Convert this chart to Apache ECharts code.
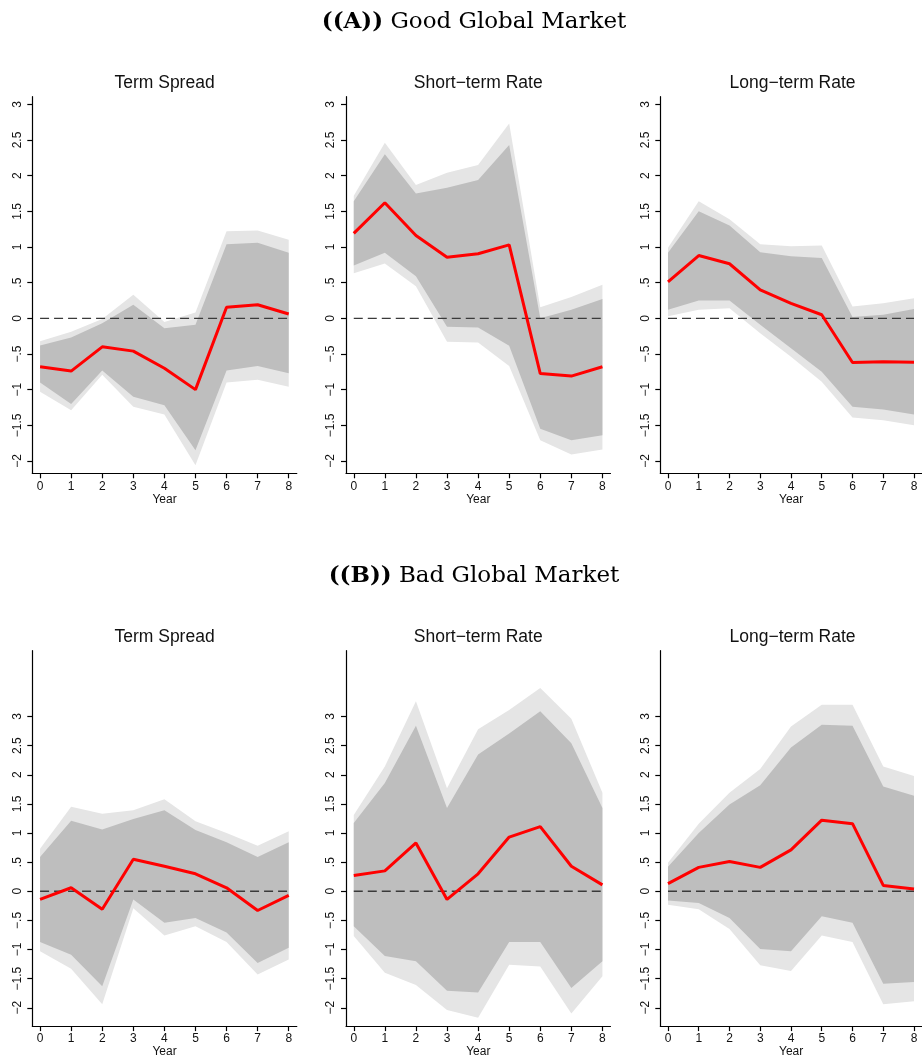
<!DOCTYPE html>
<html><head><meta charset="utf-8">
<script src="https://cdn.jsdelivr.net/npm/echarts@6/dist/echarts.min.js"></script>
<style>html,body{margin:0;padding:0;background:#fff}#c{width:922px;height:1059px}</style>
</head><body><div id="c"></div><script>
// ---------- data ----------
const years = [0, 1, 2, 3, 4, 5, 6, 7, 8];
const yTicks = [-2, -1.5, -1, -0.5, 0, 0.5, 1, 1.5, 2, 2.5, 3];
const yTickLabels = ['\u22122', '\u22121.5', '\u22121', '\u2212.5', '0', '.5', '1', '1.5', '2', '2.5', '3'];
const panelTitles = ['Term Spread', 'Short\u2212term Rate', 'Long\u2212term Rate'];
const sectionTitles = ['((A))', '((B))'];
const sectionNames = ['Good Global Market', 'Bad Global Market'];
const xAxisName = 'Year';

// (A) Good global market
const goodSpreadIRF  = [-0.68, -0.74, -0.40, -0.46, -0.70, -1.00, 0.155, 0.19, 0.06];
const goodSpreadHi90 = [-0.38, -0.27, -0.07, 0.19, -0.14, -0.09, 1.04, 1.06, 0.92];
const goodSpreadLo90 = [-0.90, -1.20, -0.73, -1.10, -1.22, -1.85, -0.73, -0.67, -0.77];
const goodSpreadHi95 = [-0.32, -0.19, -0.01, 0.33, -0.05, 0.08, 1.22, 1.23, 1.10];
const goodSpreadLo95 = [-1.03, -1.29, -0.79, -1.24, -1.35, -2.06, -0.90, -0.86, -0.96];

const goodShortIRF  = [1.19, 1.62, 1.16, 0.855, 0.905, 1.03, -0.775, -0.81, -0.68];
const goodShortHi90 = [1.64, 2.30, 1.75, 1.83, 1.94, 2.43, 0.00, 0.12, 0.27];
const goodShortLo90 = [0.74, 0.92, 0.59, -0.12, -0.13, -0.385, -1.55, -1.71, -1.64];
const goodShortHi95 = [1.72, 2.46, 1.87, 2.04, 2.15, 2.73, 0.155, 0.30, 0.47];
const goodShortLo95 = [0.63, 0.77, 0.45, -0.33, -0.34, -0.67, -1.71, -1.91, -1.84];

const goodLongIRF  = [0.51, 0.88, 0.765, 0.40, 0.21, 0.05, -0.62, -0.61, -0.615];
const goodLongHi90 = [0.92, 1.50, 1.30, 0.925, 0.87, 0.845, 0.02, 0.05, 0.13];
const goodLongLo90 = [0.12, 0.25, 0.25, -0.09, -0.42, -0.75, -1.24, -1.28, -1.35];
const goodLongHi95 = [0.99, 1.64, 1.39, 1.04, 1.01, 1.02, 0.165, 0.21, 0.28];
const goodLongLo95 = [0.03, 0.12, 0.14, -0.21, -0.54, -0.89, -1.39, -1.43, -1.50];

// (B) Bad global market
const badSpreadIRF  = [-0.14, 0.06, -0.31, 0.55, 0.43, 0.30, 0.06, -0.33, -0.07];
const badSpreadHi90 = [0.59, 1.21, 1.06, 1.24, 1.39, 1.05, 0.84, 0.59, 0.84];
const badSpreadLo90 = [-0.87, -1.09, -1.63, -0.14, -0.54, -0.46, -0.71, -1.23, -0.97];
const badSpreadHi95 = [0.73, 1.45, 1.33, 1.39, 1.58, 1.20, 1.00, 0.78, 1.03];
const badSpreadLo95 = [-1.03, -1.33, -1.94, -0.29, -0.76, -0.60, -0.87, -1.43, -1.17];

const badShortIRF  = [0.27, 0.35, 0.83, -0.14, 0.30, 0.93, 1.11, 0.43, 0.11];
const badShortHi90 = [1.17, 1.86, 2.84, 1.43, 2.35, 2.71, 3.09, 2.54, 1.43];
const badShortLo90 = [-0.60, -1.11, -1.20, -1.71, -1.74, -0.87, -0.87, -1.66, -1.20];
const badShortHi95 = [1.31, 2.14, 3.26, 1.77, 2.78, 3.11, 3.49, 2.96, 1.69];
const badShortLo95 = [-0.77, -1.40, -1.61, -2.04, -2.17, -1.26, -1.29, -2.10, -1.46];

const badLongIRF  = [0.13, 0.41, 0.51, 0.41, 0.71, 1.22, 1.16, 0.10, 0.04];
const badLongHi90 = [0.42, 1.00, 1.49, 1.82, 2.47, 2.86, 2.84, 1.80, 1.64];
const badLongLo90 = [-0.16, -0.20, -0.46, -0.99, -1.03, -0.43, -0.54, -1.59, -1.56];
const badLongHi95 = [0.49, 1.16, 1.69, 2.10, 2.83, 3.20, 3.20, 2.14, 1.98];
const badLongLo95 = [-0.23, -0.31, -0.65, -1.27, -1.37, -0.76, -0.87, -1.94, -1.89];

// ---------- layout ----------
const panels = [
  {row: 0, col: 0, irf: goodSpreadIRF, hi90: goodSpreadHi90, lo90: goodSpreadLo90, hi95: goodSpreadHi95, lo95: goodSpreadLo95},
  {row: 0, col: 1, irf: goodShortIRF,  hi90: goodShortHi90,  lo90: goodShortLo90,  hi95: goodShortHi95,  lo95: goodShortLo95},
  {row: 0, col: 2, irf: goodLongIRF,   hi90: goodLongHi90,   lo90: goodLongLo90,   hi95: goodLongHi95,   lo95: goodLongLo95},
  {row: 1, col: 0, irf: badSpreadIRF,  hi90: badSpreadHi90,  lo90: badSpreadLo90,  hi95: badSpreadHi95,  lo95: badSpreadLo95},
  {row: 1, col: 1, irf: badShortIRF,   hi90: badShortHi90,   lo90: badShortLo90,   hi95: badShortHi95,   lo95: badShortLo95},
  {row: 1, col: 2, irf: badLongIRF,    hi90: badLongHi90,    lo90: badLongLo90,    hi95: badLongHi95,    lo95: badLongLo95}
];
const gridLefts = [32.3, 346, 660.3];
const gridWidth = 264.5;
const rowTops = [96.7, 650.7];
const gridHeight = 376.6;
const rowYRange = [[-2.173, 3.107], [-2.315, 4.13]];
const xRange = [-0.25, 8.26];
const rowTitleY = [74.5, 628];
const sectionTop = [11, 564.5];

const SANS = '"Liberation Sans", Arial, Helvetica, sans-serif';
const SERIF = '"DejaVu Serif", "Liberation Serif", serif';
const LIGHT = '#e5e5e5', DARK = '#bebebe';

function band(idx, lo, hi, color) {
  return {
    type: 'custom', xAxisIndex: idx, yAxisIndex: idx, silent: true, animation: false,
    data: years.map((x, i) => [x, lo[i], hi[i]]),
    encode: {x: 0, y: [1, 2]},
    renderItem: function (params, api) {
      if (params.dataIndex !== 0) return null;
      const pts = [];
      for (let i = 0; i < years.length; i++) pts.push(api.coord([years[i], hi[i]]));
      for (let i = years.length - 1; i >= 0; i--) pts.push(api.coord([years[i], lo[i]]));
      return {type: 'polygon', shape: {points: pts}, style: {fill: color, stroke: null}};
    }
  };
}

const grids = [], xAxes = [], yAxes = [], series = [], titles = [];
panels.forEach((p, idx) => {
  grids.push({left: gridLefts[p.col], top: rowTops[p.row], width: gridWidth, height: gridHeight, containLabel: false});
  xAxes.push({
    gridIndex: idx, type: 'value', min: xRange[0], max: xRange[1],
    axisLine: {show: true, onZero: false, lineStyle: {color: '#000', width: 1.2}},
    axisTick: {show: true, length: 5, customValues: years, lineStyle: {color: '#000', width: 1.2}},
    axisLabel: {show: true, customValues: years, margin: 7, fontSize: 12, color: '#111', fontFamily: SANS},
    splitLine: {show: false},
    name: xAxisName, nameLocation: 'middle', nameGap: 19,
    nameTextStyle: {fontSize: 12, color: '#111', fontFamily: SANS}
  });
  yAxes.push({
    gridIndex: idx, type: 'value', min: rowYRange[p.row][0], max: rowYRange[p.row][1],
    axisLine: {show: true, onZero: false, lineStyle: {color: '#000', width: 1.2}},
    axisTick: {show: true, length: 5, customValues: yTicks, lineStyle: {color: '#000', width: 1.2}},
    axisLabel: {show: true, customValues: yTicks, rotate: 90, margin: 9, fontSize: 12, color: '#111', fontFamily: SANS,
      formatter: v => { const k = yTicks.findIndex(t => Math.abs(t - v) < 1e-9); return k >= 0 ? yTickLabels[k] : ''; }},
    splitLine: {show: false}
  });
  series.push(band(idx, p.lo95, p.hi95, LIGHT));
  series.push(band(idx, p.lo90, p.hi90, DARK));
  series.push({
    type: 'line', xAxisIndex: idx, yAxisIndex: idx, silent: true, animation: false, symbol: 'none',
    data: [[years[0], 0], [years[years.length - 1], 0]],
    lineStyle: {color: '#3a3a3a', width: 1.3, type: [9, 5]}, z: 3
  });
  series.push({
    type: 'line', xAxisIndex: idx, yAxisIndex: idx, silent: true, animation: false, symbol: 'none',
    data: years.map((x, i) => [x, p.irf[i]]),
    lineStyle: {color: '#ff0000', width: 3}, z: 4
  });
  titles.push({
    text: panelTitles[p.col], left: gridLefts[p.col] + gridWidth / 2, top: rowTitleY[p.row], textAlign: 'center', padding: 0,
    textStyle: {fontFamily: SANS, fontSize: 17.5, fontWeight: 'normal', color: '#111'}
  });
});
sectionTitles.forEach((s, r) => {
  titles.push({
    text: '{b|' + s + '} ' + sectionNames[r], left: 474, top: sectionTop[r], textAlign: 'center', padding: 0,
    textStyle: {fontFamily: SERIF, fontSize: 23, fontWeight: 'normal', color: '#000',
      rich: {b: {fontFamily: SERIF, fontSize: 23, fontWeight: 'bold', color: '#000'}}}
  });
});

const chart = echarts.init(document.getElementById('c'), null, {renderer: 'canvas'});
chart.setOption({
  animation: false, backgroundColor: '#fff',
  title: titles, grid: grids, xAxis: xAxes, yAxis: yAxes, series: series
});
</script></body></html>
